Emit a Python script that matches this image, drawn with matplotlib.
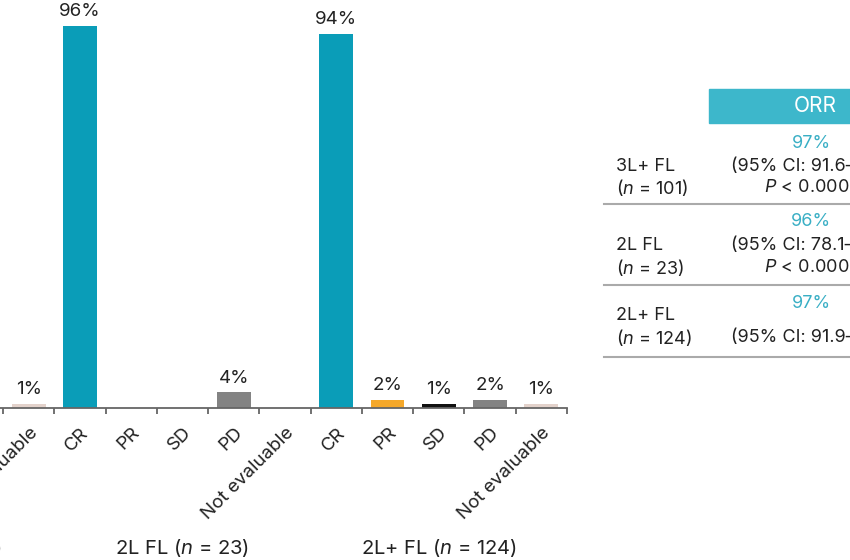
import matplotlib.pyplot as plt
from matplotlib.patches import Rectangle
from matplotlib.lines import Line2D

W, H = 850, 560

plt.rcParams['font.family'] = ['Inter', 'DejaVu Sans']
plt.rcParams['mathtext.fontset'] = 'custom'
plt.rcParams['mathtext.rm'] = 'Inter'
plt.rcParams['mathtext.it'] = 'Inter:italic'

# visible categories (the chart is cropped on the left and right)
categories = ['Not evaluable',
              'CR', 'PR', 'SD', 'PD', 'Not evaluable',
              'CR', 'PR', 'SD', 'PD', 'Not evaluable']
values = [1, 96, 0, 0, 4, 0, 94, 2, 1, 2, 1]
group_labels = ['3L+ FL ($\\mathit{n}$ = 101)',
                '2L FL ($\\mathit{n}$ = 23)',
                '2L+ FL ($\\mathit{n}$ = 124)']
group_centers = [-2, 3, 8]

row_labels = [('3L+ FL', '($\\mathit{n}$ = 101)'),
              ('2L FL', '($\\mathit{n}$ = 23)'),
              ('2L+ FL', '($\\mathit{n}$ = 124)')]
orr_values = ['97%', '96%', '97%']
ci_texts = ['(95% CI: 91.6–', '(95% CI: 78.1–', '(95% CI: 91.9–']
p_texts = ['$\\mathit{P}$ < 0.000', '$\\mathit{P}$ < 0.000', '']

colors = {'CR': '#0a9db8', 'PR': '#f5a82a', 'SD': '#111111',
          'PD': '#838383', 'Not evaluable': '#e3d2cb'}

fig = plt.figure(figsize=(W / 100, H / 100), dpi=100)


def fx(px):
    return px / W


def fy(py):
    return 1 - py / H


ax = fig.add_axes([0, fy(408), fx(567), 408 / H])
x = list(range(len(categories)))
ax.bar(x, values, width=0.66, color=[colors[c] for c in categories])
ax.set_xlim(-0.5585, 10.5)
ax.set_ylim(0, 102.5)

for sp in ['top', 'right', 'left']:
    ax.spines[sp].set_visible(False)
ax.spines['bottom'].set_color('#666666')
ax.spines['bottom'].set_linewidth(1.3)
ax.set_yticks([])
ax.set_xticks([i - 0.5 for i in range(len(categories) + 1)])
ax.set_xticklabels([])
ax.tick_params(axis='x', direction='out', length=4.5, width=1.3,
               color='#666666')

for i, v in enumerate(values):
    if v > 0:
        ax.annotate('{0}%'.format(v), xy=(i, v), xytext=(0, 4),
                    textcoords='offset points', ha='center', va='bottom',
                    fontsize=13.5, color='#222222')

for i, c in enumerate(categories):
    ax.annotate(c, xy=(i, 0), xycoords=('data', 'axes fraction'),
                xytext=(4.5, -16), textcoords='offset points',
                rotation=45, rotation_mode='anchor', ha='right', va='center',
                fontsize=13.5, color='#222222', annotation_clip=False)

for lab, gc in zip(group_labels, group_centers):
    ax.annotate(lab, xy=(gc, 0), xycoords=('data', 'axes fraction'),
                xytext=(0, -101), textcoords='offset points',
                ha='center', va='center', fontsize=14.5, color='#222222',
                annotation_clip=False)

# ORR table
fig.patches.append(Rectangle((fx(709), fy(123)), fx(850) - fx(709) + 0.01,
                             34 / H, transform=fig.transFigure,
                             color='#3db7cb', zorder=1))
fig.text(fx(815), fy(106), 'ORR', ha='center', va='center',
         fontsize=15, color='white')

row_y = [(143, 166, 188), (222, 245, 267), (303, 316, 338)]
for k, (ry, lab, orr, ci, pt) in enumerate(zip(row_y, row_labels, orr_values,
                                                ci_texts, p_texts)):
    y_orr, y1, y2 = ry
    fig.text(fx(811), fy(y_orr), orr, ha='center', va='center',
             fontsize=13, color='#3aafc5')
    fig.text(fx(616), fy(y1), lab[0], ha='left', va='center',
             fontsize=13, color='#222222')
    fig.text(fx(616), fy(y2), lab[1], ha='left', va='center',
             fontsize=13, color='#222222')
    if pt:
        fig.text(fx(731), fy(y1), ci, ha='left', va='center',
                 fontsize=13, color='#222222')
        fig.text(fx(764), fy(y2), pt, ha='left', va='center',
                 fontsize=13, color='#222222')
    else:
        fig.text(fx(731), fy(y2), ci, ha='left', va='center',
                 fontsize=13, color='#222222')

for ly in [204, 285, 357]:
    fig.lines.append(Line2D([fx(604), 1.0], [fy(ly), fy(ly)],
                            transform=fig.transFigure, color='#aaaaaa',
                            linewidth=1.5))

fig.savefig('out.png', dpi=100)
